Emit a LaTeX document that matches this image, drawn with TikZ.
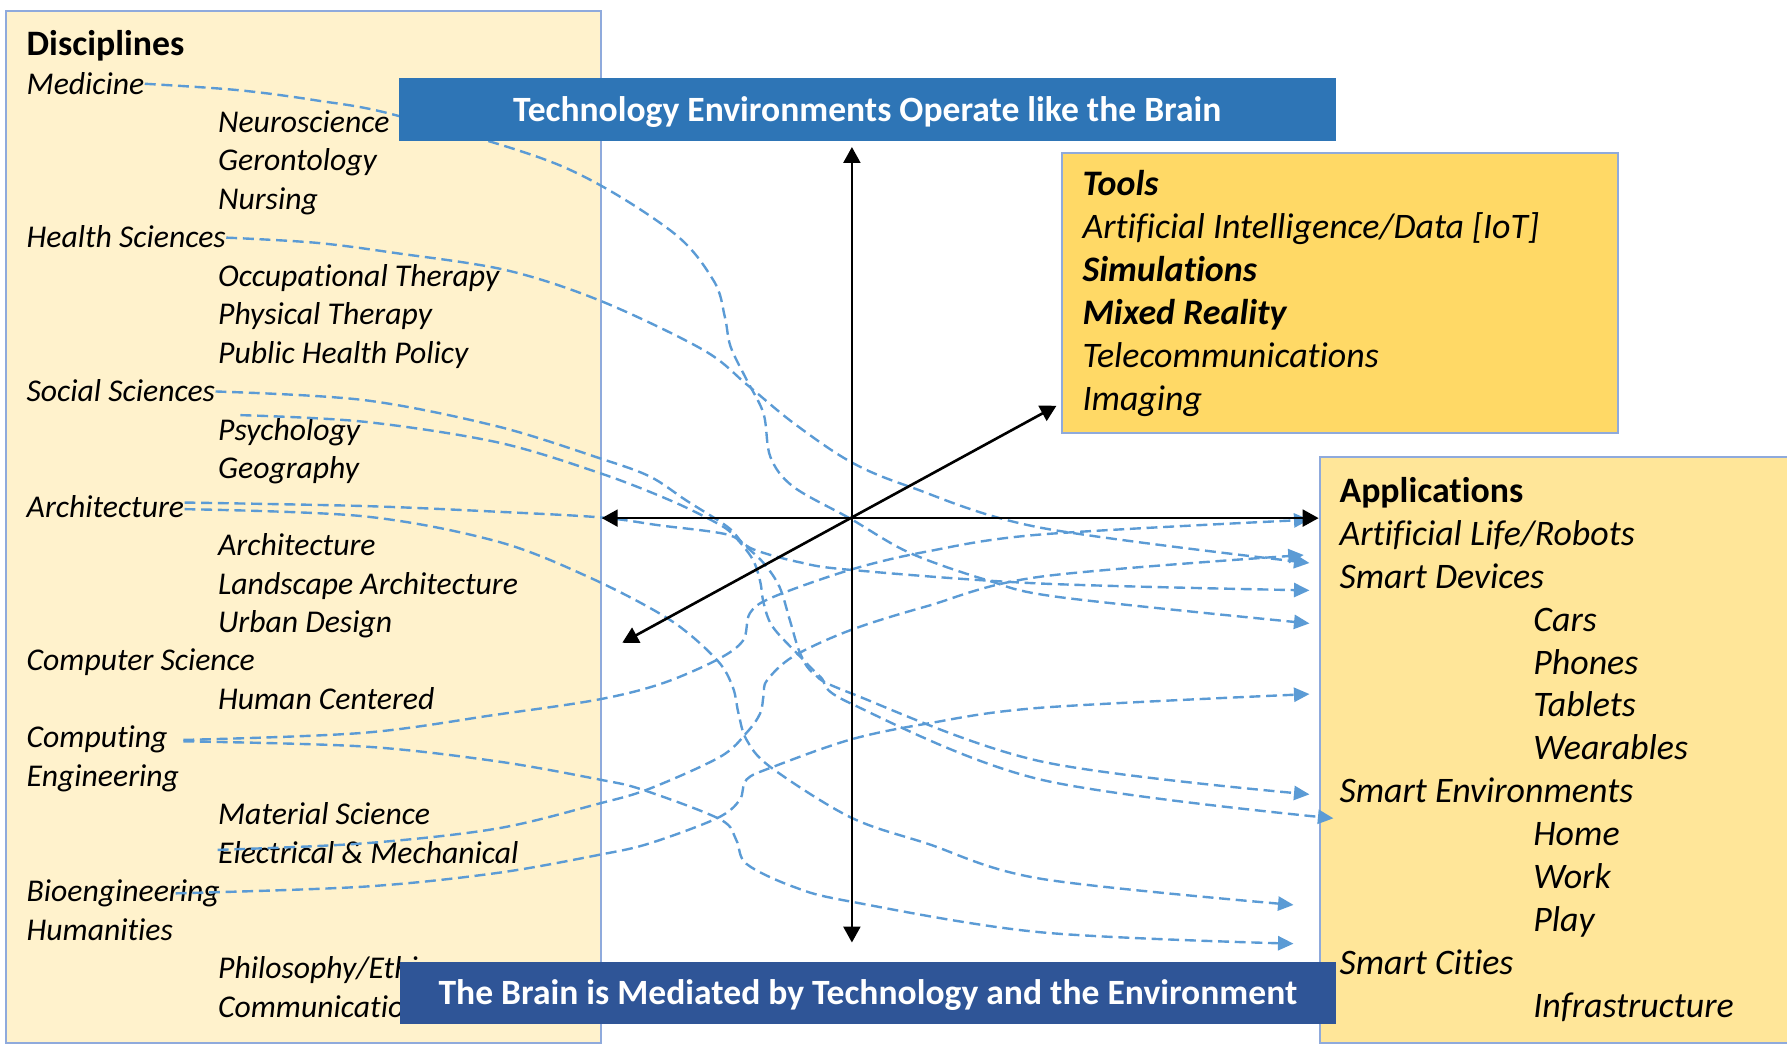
\documentclass[tikz,border=0pt]{standalone}
\usepackage{fontspec}
\setmainfont{Carlito}[Ligatures=NoCommon]
\usetikzlibrary{arrows.meta}
\definecolor{leftfill}{HTML}{FFF2CC}
\definecolor{toolfill}{HTML}{FFD966}
\definecolor{appfill}{HTML}{FFE699}
\definecolor{boxline}{HTML}{8FAADC}
\definecolor{topblue}{HTML}{2E75B6}
\definecolor{botblue}{HTML}{2F5597}
\definecolor{conn}{HTML}{5B9BD5}
\begin{document}
\begin{tikzpicture}[x=0.5pt,y=-0.5pt,
  panel/.style={draw=boxline, line width=0.9pt, anchor=north west, inner sep=0pt, outer sep=0pt},
  banner/.style={inner sep=0pt, outer sep=0pt, text=white, text height=10.5pt, text depth=0pt, font=\fontsize{15.6}{18}\selectfont\bfseries},
  li/.style={anchor=base west, inner sep=0pt, text height=9pt, text depth=0pt, font=\fontsize{13.9}{16}\selectfont\itshape},
  bi/.style={anchor=base west, inner sep=0pt, text height=10pt, text depth=0pt, font=\fontsize{15.75}{18}\selectfont\itshape},
  bh/.style={anchor=base west, inner sep=0pt, font=\fontsize{15.7}{18}\selectfont\bfseries},
  bhi/.style={anchor=base west, inner sep=0pt, font=\fontsize{15.75}{18}\selectfont\bfseries\itshape},
  link/.style={draw=conn, line width=1.05pt, dash pattern=on 4.8pt off 2.5pt, -{Triangle[length=6.8pt,width=6.2pt]}},
  axisline/.style={line width=1.15pt, {Triangle[length=7pt,width=7.4pt]}-{Triangle[length=7pt,width=7.4pt]}}
]
\useasboundingbox (0,0) rectangle (1568,917);
\clip (0,0) rectangle (1568,917);

% panels
\node[panel, fill=leftfill, minimum width=261pt, minimum height=452.5pt] (discbox) at (5,10) {};
\node[panel, fill=appfill, minimum width=212pt, minimum height=257pt] (appbox) at (1158,401) {};
\node[panel, fill=toolfill, minimum width=244pt, minimum height=123pt] (toolbox) at (932,134) {};

% disciplines
\node[bh] (dh) at (23,48.3) {Disciplines};
\node[li] (med)  at (23,82.5)   {Medicine};
\node[li] (neu)  at (191,116.25) {Neuroscience};
\node[li] (ger)  at (191,150)   {Gerontology};
\node[li] (nur)  at (191,183.75) {Nursing};
\node[li] (hea)  at (23,217.5)  {Health Sciences};
\node[li] (occ)  at (191,251.25) {Occupational Therapy};
\node[li] (phy)  at (191,285)   {Physical Therapy};
\node[li] (pub)  at (191,318.75) {Public Health Policy};
\node[li] (soc)  at (23,352.5)  {Social Sciences};
\node[li] (psy)  at (191,386.25) {Psychology};
\node[li] (geo)  at (191,420)   {Geography};
\node[li] (arc)  at (23,453.75) {Architecture};
\node[li] (arc2) at (191,487.5) {Architecture};
\node[li] (lan)  at (191,521.25) {Landscape Architecture};
\node[li] (urb)  at (191,555)   {Urban Design};
\node[li] (csc)  at (23,588.75) {Computer Science};
\node[li] (hum)  at (191,622.5) {Human Centered};
\node[li] (cmp)  at (23,656.25) {Computing};
\node[li] (eng)  at (23,690)    {Engineering};
\node[li] (mat)  at (191,723.75) {Material Science};
\node[li] (ele)  at (191,757.5) {Electrical \& Mechanical};
\node[li] (bio)  at (23,791.25) {Bioengineering};
\node[li] (hmn)  at (23,825)    {Humanities};
\node[li] (phi)  at (191,858.75) {Philosophy/Ethics};
\node[li] (com)  at (191,892.5) {Communications};

% tools
\node[bhi] (th) at (949.5,171.3) {Tools};
\node[bi]  (ai) at (949.5,209.1) {Artificial Intelligence/Data [IoT]};
\node[bhi] (sim) at (949.5,246.9) {Simulations};
\node[bhi] (mix) at (949.5,284.7) {Mixed Reality};
\node[bi]  (tel) at (949.5,322.5) {Telecommunications};
\node[bi]  (img) at (949.5,360.3) {Imaging};

% applications
\node[bh] (ah) at (1175,440.6) {Applications};
\node[bi] (alr) at (1175,478.3) {Artificial Life/Robots};
\node[bi] (sdv) at (1175,516)   {Smart Devices};
\node[bi] (car) at (1345,553.7) {Cars};
\node[bi] (pho) at (1345,591.4) {Phones};
\node[bi] (tab) at (1345,629.1) {Tablets};
\node[bi] (wea) at (1345,666.8) {Wearables};
\node[bi] (sen) at (1175,704.5) {Smart Environments};
\node[bi] (hom) at (1345,742.2) {Home};
\node[bi] (wrk) at (1345,779.9) {Work};
\node[bi] (ply) at (1345,817.6) {Play};
\node[bi] (sci) at (1175,855.3) {Smart Cities};
\node[bi] (inf) at (1345,893)   {Infrastructure};

% connector end points
\coordinate (eMed) at (1149,547);
\coordinate (eHea) at (1149,494);
\coordinate (eSoc) at (1149,697);
\coordinate (ePsy) at (1170,718);
\coordinate (eAr1) at (1149,518);
\coordinate (eAr2) at (1135,794);
\coordinate (eCp1) at (1149,456);
\coordinate (eCp2) at (1135,828);
\coordinate (eEle) at (1144,487);
\coordinate (eBio) at (1149,609);

% connectors
\draw[link] plot[smooth, tension=0.55] coordinates {(med.east) (208,79) (277,88) (347,101) (491,145) (588,202) (626,246) (636,278) (641,304) (655,333) (670,363) (676,401) (696,427) (746,455) (798,485) (866,509) (930,524) (eMed)};
\draw[link] plot[smooth, tension=0.55] coordinates {(hea.east) (277,213) (347,222) (444,237) (527,264) (617,307) (656,338) (696,371) (746,405) (798,427) (913,463) (eHea)};
\draw[link] plot[smooth, tension=0.55] coordinates {(soc.east) (319,351) (436,374) (526,402) (570,418) (602,439) (638,462) (652,477) (670,494) (684,515) (693,544) (702,573) (714,591) (746,608) (913,668) (eSoc)};
\draw[link] plot[smooth, tension=0.55] coordinates {([xshift=10pt,yshift=1.8pt]psy.north west) (319,370) (436,388) (526,415) (588,439) (629,459) (643,469) (660,490) (667,510) (670,529) (678,550) (702,576) (720,594) (746,617) (913,684) (ePsy)};
\draw[link] plot[smooth, tension=0.55] coordinates {([yshift=1.9pt]arc.east) (319,444) (436,449) (527,454) (579,461) (638,469) (661,482) (700,493) (746,500) (913,512) (eAr1)};
\draw[link] plot[smooth, tension=0.55] coordinates {([yshift=-1pt]arc.east) (319,453) (436,475) (518,507) (588,544) (629,579) (643,603) (648,626) (655,649) (676,673) (746,717) (813,740) (913,771) (eAr2)};
\draw[link] plot[smooth, tension=0.55] coordinates {([xshift=6.7pt,yshift=-1pt]cmp.east) (319,643) (436,627) (524,614) (580,600) (629,579) (652,562) (658,538) (678,524) (746,500) (813,484) (913,469) (eCp1)};
\draw[link] plot[smooth, tension=0.55] coordinates {([xshift=6.7pt,yshift=-1.6pt]cmp.east) (319,655) (436,668) (526,684) (564,693) (632,719) (646,737) (655,758) (696,778) (746,791) (913,818) (eCp2)};
\draw[link] plot[smooth, tension=0.55] coordinates {([yshift=1.4pt]ele.west) (319,740) (436,727) (526,705) (570,692) (632,664) (655,643) (667,626) (670,610) (673,597) (696,576) (746,553) (813,532) (913,506) (eEle)};
\draw[link] plot[smooth, tension=0.55] coordinates {([xshift=-19.5pt,yshift=-0.8pt]bio.east) (319,778) (436,766) (526,750) (570,740) (629,718) (649,702) (655,684) (678,673) (746,649) (813,635) (913,621) (eBio)};

% axes
\coordinate (axT) at (747.5,129);
\coordinate (axB) at (747.5,827);
\coordinate (axL) at (528,454.6);
\coordinate (axR) at (1157,454.6);
\coordinate (axDL) at (546,564);
\coordinate (axDR) at (927,356);
\draw[axisline] (axT) -- (axB);
\draw[axisline] (axL) -- (axR);
\draw[axisline] (axDL) -- (axDR);

% banners
\node[banner, fill=topblue, minimum width=411pt, minimum height=27.35pt] (topbanner) at (761,96) {Technology Environments Operate like the Brain};
\node[banner, fill=botblue, minimum width=410.5pt, minimum height=27.3pt] (botbanner) at (761.5,871.3) {The Brain is Mediated by Technology and the Environment};
\end{tikzpicture}
\end{document}
